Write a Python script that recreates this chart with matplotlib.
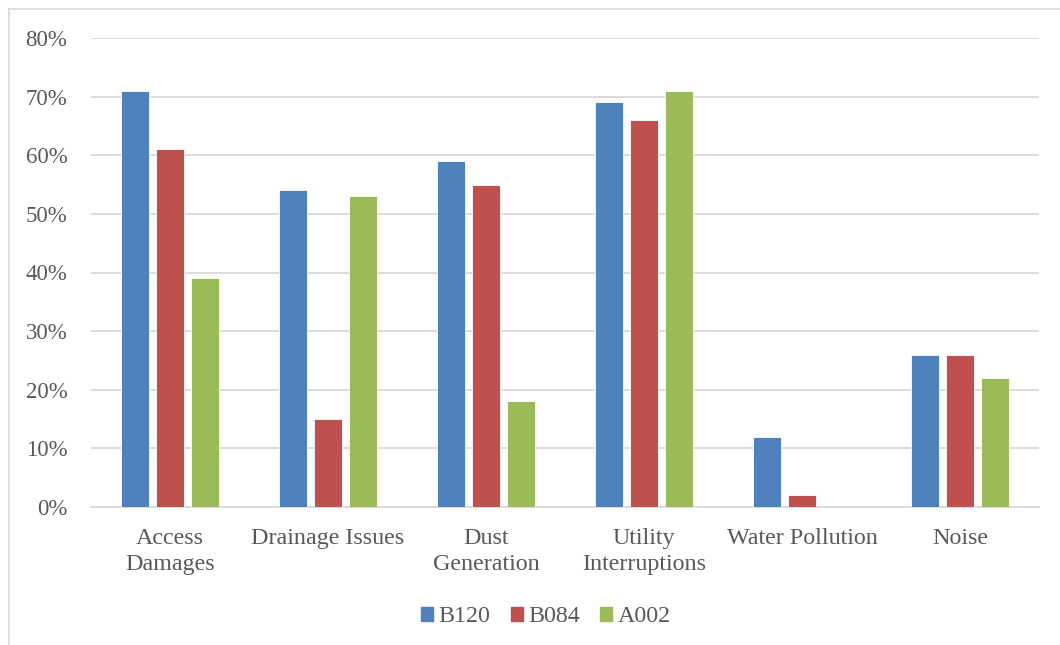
import matplotlib
matplotlib.use("Agg")
import matplotlib.pyplot as plt
import numpy as np
from matplotlib.patches import Rectangle
from matplotlib.lines import Line2D

categories = ["Access\nDamages", "Drainage Issues", "Dust\nGeneration",
              "Utility\nInterruptions", "Water Pollution", "Noise"]
b120 = [71, 54, 59, 69, 12, 26]
b084 = [61, 15, 55, 66, 2, 26]
a002 = [39, 53, 18, 71, 0, 22]
series_names = ["B120", "B084", "A002"]
colors = ["#4F81BD", "#C0504D", "#9BBB59"]
yticks = [0, 10, 20, 30, 40, 50, 60, 70, 80]

text_color = "#595959"
grid_color = "#D9D9D9"
plt.rcParams["font.family"] = ["Liberation Serif", "DejaVu Serif"]

fig = plt.figure(figsize=(10.6, 6.45), dpi=100)
ax = fig.add_axes([91 / 1060, 1 - 507 / 645, 948 / 1060, 469 / 645])

x = np.arange(len(categories))
width = 0.173
step = 0.2215
for i, (vals, name, c) in enumerate(zip([b120, b084, a002], series_names, colors)):
    ax.bar(x + (i - 1) * step, vals, width, color=c, label=name, zorder=3,
           edgecolor="white", linewidth=0.6)

ax.set_xlim(-0.5, len(categories) - 0.5)
ax.set_ylim(0, 80)
ax.set_yticks(yticks)
ax.set_yticklabels([f"{v}%" for v in yticks])
ax.set_xticks(x)
ax.set_xticklabels(categories, linespacing=1.3)
ax.tick_params(axis="both", length=0, colors=text_color)
ax.tick_params(axis="x", pad=15, labelsize=17.3)
ax.tick_params(axis="y", pad=17, labelsize=16.5)
ax.grid(axis="y", color=grid_color, linewidth=1.3, zorder=0)
for s in ["top", "right", "left"]:
    ax.spines[s].set_visible(False)
ax.spines["bottom"].set_color(grid_color)
ax.spines["bottom"].set_linewidth(1.3)

handles = [Rectangle((0, 0), 1, 1, color=c) for c in colors]
leg = fig.legend(handles, series_names, loc="center", bbox_to_anchor=(546 / 1060, 1 - 617 / 645),
                 ncol=3, frameon=False, fontsize=17.3, handlelength=0.5, handleheight=0.5,
                 handletextpad=0.22, columnspacing=0.85, labelcolor=text_color)

# outer chart frame
fig.add_artist(Line2D([9 / 1060, 9 / 1060], [0, 1 - 9 / 645], transform=fig.transFigure,
                      color=grid_color, linewidth=1.2))
fig.add_artist(Line2D([9 / 1060, 1], [1 - 9 / 645, 1 - 9 / 645], transform=fig.transFigure,
                      color=grid_color, linewidth=1.2))

fig.savefig("out.png", dpi=100)
